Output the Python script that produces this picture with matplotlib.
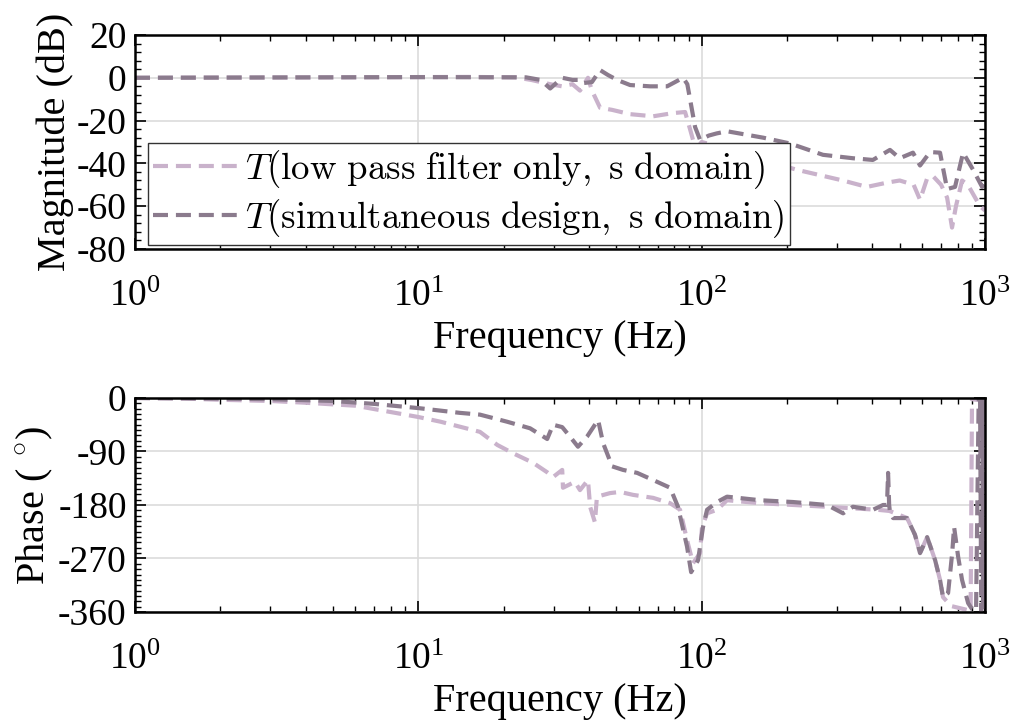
import numpy as np
import matplotlib
matplotlib.use("Agg")
import matplotlib.pyplot as plt
from matplotlib.ticker import MultipleLocator, LogLocator, NullFormatter

# Magnitude, low pass filter only (Hz, dB)
mag_lp_freq = [1, 5, 15, 22, 25, 29.2, 32.2, 35, 37.2, 39.7, 41, 43.8, 48.3, 55.9, 67.4,
               79.3, 87.4, 91, 93.2, 96, 100, 130, 170, 217, 315, 383, 451, 500, 560,
               590, 625, 656, 700, 735, 765, 790, 830, 870, 960, 1000]
mag_lp_db = [0, 0.2, 0.4, 0.2, -1, -3, -4, -3, -6, 0, -6, -14, -15, -17, -18,
             -16.5, -16, -24, -29, -33, -30, -34, -39, -43, -48, -51, -49, -48, -50,
             -57, -47, -46, -50, -56, -70, -60, -48, -50, -60, -62]

# Magnitude, simultaneous design (Hz, dB)
mag_sim_freq = [1, 10, 24, 27, 29.2, 32.2, 35, 37.2, 38.1, 41, 43.8, 46.7, 50.3, 55.9,
                65.8, 75.5, 86, 89, 91, 94.8, 98.7, 106, 113, 123, 165, 205, 268, 342,
                402, 462, 500, 557, 590, 640, 694, 735, 784, 837, 908, 977, 1000]
mag_sim_db = [0, 0.3, 0.2, -1, -5, 0, -1, -1, -2.5, -2, 3.6, 1.3, -1, -3.4,
              -4, -4, 0, -3, -10, -23, -29, -27, -26, -25, -28, -30.7, -36, -37.6,
              -38.4, -33.7, -37.6, -35, -41, -34.7, -35, -52, -51, -35, -43, -51, -49]

# Phase, low pass filter only (Hz, deg)
ph_lp_freq = [1, 1.5, 2, 3, 4, 6, 10, 12, 16.5, 19, 21.6, 25.4, 28.5, 29.9, 32.2, 32.4,
              35.7, 37.2, 39.7, 40.4, 42, 42.7, 47.5, 51.5, 57.3, 67.4, 77.4, 83.9, 88.8,
              93.2, 98.7, 100.3, 104.5, 113.4, 122.9, 160.8, 277, 416, 460, 531, 566,
              590, 625, 667, 694, 711, 760, 840, 890, 900, 1000]
ph_lp_deg = [0, -1, -3, -5, -8, -13, -32, -40, -57, -79, -93, -109, -125, -133, -121, -151,
             -141, -155, -138, -183, -209, -166, -160, -158, -163, -168, -177, -188, -239,
             -278, -261, -217, -194, -188, -172, -177, -183, -188, -190, -202, -230,
             -261, -234, -273, -306, -335, -350, -355, -358, -2, -5]

# Phase, simultaneous design (Hz, deg)
ph_sim_freq = [1, 2, 3, 5, 7, 10, 14, 16.5, 20.6, 24.8, 27, 28.5, 29.9, 32.2, 34.3, 36.6,
               39.4, 43.1, 44.9, 48.3, 52.8, 59.2, 67.4, 77.4, 82.5, 88.8, 91.8, 97.1,
               101.1, 104.5, 113.4, 122.9, 160.8, 210, 277, 315.6, 342, 402.7, 436.7,
               451, 455, 459, 462, 474, 531, 566, 590, 625, 667, 694, 711, 741, 766,
               778, 804, 830, 872, 900, 930, 950, 961, 970, 978, 985, 992, 1000]
ph_sim_deg = [0, -1, -2, -5, -10, -17, -25, -28, -40, -51, -62, -69, -45, -49, -65, -82,
              -65, -37, -76, -115, -121, -126, -138, -151, -183, -250, -293, -273,
              -217, -188, -175, -166, -172, -175, -180, -194, -183, -188, -180,
              -180, -126, -180, -192, -202, -202, -230, -261, -234, -273, -306, -335, -328, -261,
              -217, -267, -306, -345, -355, -358, -2, -5, -358, -3, -355, -5, -350]

labels = [r'$T(\mathrm{low\ pass\ filter\ only,\ s\ domain})$',
          r'$T(\mathrm{simultaneous\ design,\ s\ domain})$']
col_lp = '#c9b2cb'
col_sim = '#8b7b8d'

plt.rcParams['font.family'] = ['Liberation Serif', 'DejaVu Serif']
plt.rcParams['mathtext.fontset'] = 'cm'
plt.rcParams['font.size'] = 27

fig = plt.figure(figsize=(10.12, 7.24), dpi=100)
ax1 = fig.add_axes([0.1334, 0.6561, 0.8399, 0.2956])
ax2 = fig.add_axes([0.1334, 0.1547, 0.8399, 0.2956])

line_kw = dict(linestyle='--', dashes=(3.6, 1.9), linewidth=3)

# Magnitude plot
ax1.semilogx(mag_lp_freq, mag_lp_db, color=col_lp, label=labels[0], **line_kw)
ax1.semilogx(mag_sim_freq, mag_sim_db, color=col_sim, label=labels[1], **line_kw)
ax1.set_ylim(-80, 20)
ax1.set_yticks([20, 0, -20, -40, -60, -80])
ax1.yaxis.set_minor_locator(MultipleLocator(4))
ax1.set_ylabel('Magnitude (dB)', fontsize=29, labelpad=2)

# Phase plot
ax2.semilogx(ph_lp_freq, ph_lp_deg, color=col_lp, **line_kw)
ax2.semilogx(ph_sim_freq, ph_sim_deg, color=col_sim, **line_kw)
ax2.set_ylim(-360, 0)
ax2.set_yticks([0, -90, -180, -270, -360])
ax2.yaxis.set_minor_locator(MultipleLocator(9))
ax2.set_ylabel(r'Phase ( $^{\circ}$)', fontsize=29, labelpad=2)

for ax in (ax1, ax2):
    ax.set_xlim(1, 1000)
    ax.xaxis.set_major_locator(LogLocator(base=10, numticks=10))
    ax.xaxis.set_minor_locator(LogLocator(base=10, subs=np.arange(2, 10), numticks=10))
    ax.xaxis.set_minor_formatter(NullFormatter())
    ax.set_xlabel('Frequency (Hz)', fontsize=29, labelpad=4)
    ax.grid(True, which='major', color='#dcdcdc', linewidth=1.2)
    ax.set_axisbelow(True)
    ax.tick_params(which='both', direction='in', top=True, right=True, labelsize=27)
    ax.tick_params(axis='x', which='major', pad=22)
    ax.tick_params(axis='y', which='major', pad=6)
    ax.tick_params(which='major', length=8, width=1.2)
    ax.tick_params(which='minor', length=4, width=1)
    for s in ax.spines.values():
        s.set_linewidth(1.8)
    ax.set_yticklabels([str(int(t)) for t in ax.get_yticks()])

ax1.legend(loc='lower left', bbox_to_anchor=(0.015, 0.018), fontsize=26.5,
           handlelength=2.3, handletextpad=0.2, borderpad=0.15, labelspacing=0.15,
           borderaxespad=0, fancybox=False, framealpha=1, edgecolor='#333333')

fig.savefig('out.png', dpi=100)
